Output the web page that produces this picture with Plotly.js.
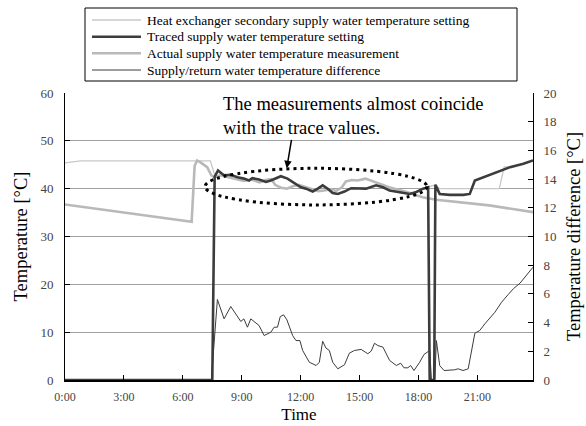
<!DOCTYPE html>
<html><head><meta charset="utf-8">
<script src="https://cdn.plot.ly/plotly-3.0.1.min.js"></script>
<style>html,body{margin:0;padding:0;background:#fff}#chart{width:586px;height:426px}</style>
</head><body><div id="chart"></div>
<script>
// ---- data (hours of day, °C) ----
const legendNames = [
  "Heat exchanger secondary supply water temperature setting",
  "Traced supply water temperature setting",
  "Actual supply water temperature measurement",
  "Supply/return water temperature difference"
];
const settingHours = [0, 0.8, 7.40, 7.65, 7.79, 8.09, 8.44, 8.78, 9.11, 9.37, 9.54, 9.88, 10.23, 10.48, 10.82, 10.99, 11.33, 11.67, 12.01, 12.27, 12.61, 12.87, 13.12, 13.38, 13.63, 13.89, 14.23, 14.57, 14.82, 15.33, 15.84, 16.19, 16.53, 17.04, 17.55, 17.89, 18.23, 18.49, 18.70, 18.86, 19.08, 22.11, 22.36, 22.66, 23.34, 23.83];
const settingValues = [45.4, 45.8, 45.8, 42.5, 43.6, 42.8, 42.9, 42.4, 42.1, 41.7, 42.2, 41.9, 41.4, 41.7, 42.2, 42.6, 42.1, 41.2, 40.3, 40.0, 39.4, 40.0, 40.7, 40.0, 39.1, 38.9, 39.4, 40.1, 40.1, 40.0, 40.7, 40.3, 39.6, 39.3, 38.9, 39.3, 40.0, 40.3, 40.5, 40.8, 40.0, 40.0, 44.5, 44.6, 45.2, 45.9];

const traceHours = [0, 7.50, 7.62, 7.79, 8.09, 8.44, 8.78, 9.11, 9.37, 9.54, 9.88, 10.23, 10.48, 10.82, 10.99, 11.33, 11.67, 12.01, 12.27, 12.61, 12.87, 13.12, 13.38, 13.63, 13.89, 14.23, 14.57, 14.82, 15.33, 15.84, 16.19, 16.53, 17.04, 17.55, 17.89, 18.23, 18.49, 18.57, 18.80, 18.86, 19.08, 19.59, 20.28, 20.61, 20.87, 21.30, 21.98, 22.66, 23.34, 23.83];
const traceValues = [0, 0, 42.5, 43.8, 42.8, 42.9, 42.4, 42.1, 41.7, 42.2, 41.9, 41.4, 41.7, 42.2, 42.6, 42.1, 41.2, 40.3, 40.0, 39.4, 40.0, 40.7, 40.0, 39.1, 38.9, 39.4, 40.1, 40.1, 40.0, 40.7, 40.3, 39.6, 39.3, 38.9, 39.3, 40.0, 40.3, 0, 0, 40.8, 38.9, 38.7, 38.7, 38.9, 41.7, 42.4, 43.5, 44.5, 45.2, 45.9];

const measHours = [0, 6.45, 6.60, 6.73, 6.90, 7.24, 7.45, 7.6, 7.9, 8.4, 8.8, 9.1, 9.5, 9.9, 10.2, 10.5, 10.7, 11.0, 11.3, 11.6, 11.9, 12.3, 12.6, 12.9, 13.2, 13.5, 13.8, 14.1, 14.3, 14.6, 14.9, 15.3, 15.8, 16.5, 17.4, 18.2, 18.9, 19.9, 21.6, 23.83];
const measValues = [36.7, 33.1, 44.8, 45.9, 45.5, 44.5, 42.8, 42.4, 42.8, 42.3, 42.0, 41.6, 41.9, 41.3, 41.8, 42.0, 40.8, 40.2, 40.0, 40.5, 40.8, 40.2, 39.9, 39.5, 39.6, 39.9, 39.5, 40.3, 41.5, 41.8, 41.7, 42.1, 41.4, 40.3, 39.3, 38.2, 37.7, 37.2, 36.5, 35.1];

const diffHours = [0, 7.45, 7.76, 8.10, 8.44, 8.69, 8.95, 9.11, 9.29, 9.46, 9.88, 10.14, 10.48, 10.65, 10.82, 10.96, 11.13, 11.30, 11.59, 11.76, 11.96, 12.10, 12.44, 12.79, 12.95, 13.12, 13.29, 13.46, 13.63, 13.89, 14.23, 14.48, 14.74, 15.08, 15.42, 15.59, 15.76, 15.93, 16.19, 16.53, 16.87, 17.09, 17.26, 17.46, 17.60, 17.77, 18.06, 18.28, 18.57, 18.66, 18.83, 18.91, 19.08, 19.30, 19.84, 20.02, 20.27, 20.53, 20.87, 21.12, 21.38, 21.89, 22.23, 22.57, 22.83, 23.17, 23.83];
const diffValues = [0, 0, 5.61, 4.26, 5.12, 4.61, 4.08, 4.26, 3.68, 4.26, 3.80, 3.10, 3.33, 3.68, 3.68, 4.42, 4.54, 4.19, 3.10, 2.75, 2.75, 2.06, 1.24, 1.01, 1.24, 2.70, 2.22, 2.06, 1.24, 0.78, 1.06, 1.87, 2.06, 2.13, 1.83, 2.01, 2.56, 2.40, 2.29, 1.36, 1.01, 1.17, 0.85, 0.85, 1.01, 0.66, 1.24, 1.78, 2.06, 0, 0, 2.75, 1.01, 0.66, 0.71, 0.78, 0.66, 0.78, 3.26, 3.45, 3.92, 4.72, 5.42, 5.96, 6.36, 6.75, 7.86];

const xTickHours = [0, 3, 6, 9, 12, 15, 18, 21];
const xTickLabels = ["0:00", "3:00", "6:00", "9:00", "12:00", "15:00", "18:00", "21:00"];
const calloutText = "The measurements almost coincide<br>with the trace values.";

// ---- layout helpers (pixel -> paper) ----
const M = {l: 65, r: 53, t: 93, b: 46};
const PW = 586 - M.l - M.r, PH = 426 - M.t - M.b;
const px = x => (x - M.l) / PW;
const py = y => (426 - M.b - y) / PH;
const FONT = "Liberation Serif, Times New Roman, serif";

const styles = [
  {color: "#c8c8c8", width: 1.3},
  {color: "#3c3c3c", width: 2.6},
  {color: "#b9b9b9", width: 2.6},
  {color: "#3c3c3c", width: 1}
];

const traces = [
  {x: settingHours, y: settingValues, name: legendNames[0], mode: "lines", line: styles[0]},
  {x: measHours, y: measValues, name: legendNames[2], mode: "lines", line: styles[2]},
  {x: traceHours, y: traceValues, name: legendNames[1], mode: "lines", line: styles[1]},
  {x: diffHours, y: diffValues, name: legendNames[3], mode: "lines", line: styles[3], yaxis: "y2"}
];

const rowY = [20, 36.7, 53.3, 70];
const shapes = [
  {type: "rect", xref: "paper", yref: "paper", x0: px(85), x1: px(517), y0: py(81), y1: py(8),
   line: {color: "#000", width: 1}, fillcolor: "rgba(0,0,0,0)"},
  {type: "circle", xref: "x", yref: "y", x0: 7.13, x1: 18.43, y0: 36.6, y1: 44.26,
   line: {color: "#000", width: 3, dash: "3px,4px"}}
];
const annotations = [];
rowY.forEach((ry, i) => {
  shapes.push({type: "line", xref: "paper", yref: "paper", x0: px(92), x1: px(141), y0: py(ry), y1: py(ry), line: styles[i]});
  annotations.push({xref: "paper", yref: "paper", x: px(145), y: py(ry), xanchor: "left", yanchor: "middle",
    text: legendNames[i], showarrow: false, font: {family: FONT, size: 13.5, color: "#000"}});
});
annotations.push({xref: "paper", yref: "paper", x: px(221), y: py(92), xanchor: "left", yanchor: "top", align: "left",
  text: calloutText, showarrow: false, font: {family: FONT, size: 18.5, color: "#000"}});
annotations.push({xref: "x", yref: "y", x: 11.29, y: 44.26, ax: 5, ay: -30, text: "", showarrow: true,
  arrowhead: 2, arrowsize: 1, arrowwidth: 1.5, arrowcolor: "#000"});

const tickFont = {family: FONT, size: 13, color: "#444"};
const layout = {
  width: 586, height: 426, margin: M, showlegend: false,
  paper_bgcolor: "#fff", plot_bgcolor: "#fff",
  font: {family: FONT, color: "#000"},
  xaxis: {range: [0, 23.83], tickvals: xTickHours, ticktext: xTickLabels, ticks: "inside", ticklen: 5,
    tickcolor: "#000", showline: true, linecolor: "#000", linewidth: 1.5, showgrid: false, zeroline: false,
    tickfont: {family: FONT, size: 12, color: "#444"}, ticklabelstandoff: 5,
    title: {text: "Time", font: {family: FONT, size: 17, color: "#000"}, standoff: 5}},
  yaxis: {range: [0, 60], dtick: 10, ticks: "inside", ticklen: 5, tickcolor: "#000", showline: true,
    linecolor: "#000", linewidth: 1, showgrid: true, gridcolor: "#a0a0a0", gridwidth: 1, zeroline: false,
    tickfont: tickFont, ticklabelstandoff: 8,
    title: {text: "Temperature [°C]", font: {family: FONT, size: 18.5, color: "#000"}, standoff: 7}},
  yaxis2: {range: [0, 20], dtick: 2, overlaying: "y", side: "right", ticks: "inside", ticklen: 5, tickcolor: "#000",
    showline: true, linecolor: "#000", linewidth: 1, showgrid: false, zeroline: false,
    tickfont: tickFont, ticklabelstandoff: 7,
    title: {text: "Temperature difference [°C]", font: {family: FONT, size: 18.5, color: "#000"}, standoff: 10}},
  shapes: shapes, annotations: annotations
};
Plotly.newPlot("chart", traces, layout, {displayModeBar: false, staticPlot: true});
</script>
</body></html>
